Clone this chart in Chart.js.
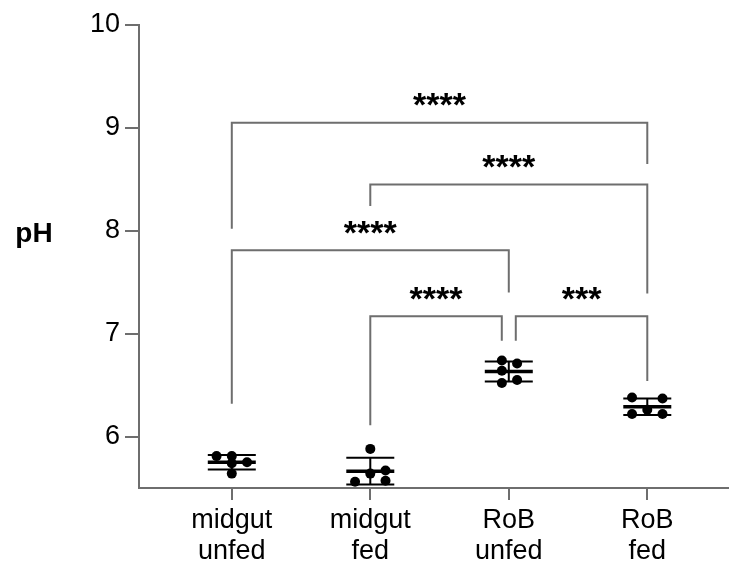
<!DOCTYPE html>
<html>
<head>
<meta charset="utf-8">
<script src="https://cdn.jsdelivr.net/npm/chart.js@4"></script>
<style>
html,body{margin:0;padding:0;background:#fff}
</style>
</head>
<body>
<canvas id="c" width="729" height="562"></canvas>
<script>
// groups on the x axis
const groups = [["midgut", "unfed"], ["midgut", "fed"], ["RoB", "unfed"], ["RoB", "fed"]];
// pH of each sample
const midgutUnfed = [5.81, 5.81, 5.75, 5.74, 5.64];
const midgutFed = [5.88, 5.56, 5.64, 5.67, 5.57];
const robUnfed = [6.74, 6.71, 6.64, 6.52, 6.55];
const robFed = [6.38, 6.37, 6.26, 6.22, 6.22];
const yTicks = [6, 7, 8, 9, 10];

// significance brackets (group numbers 1..4, heights in pH)
const cmpFrom = [1, 2, 1, 2, 3];
const cmpTo = [4, 4, 3, 3, 4];
const cmpTop = [9.05, 8.45, 7.81, 7.17, 7.17];
const cmpLegFrom = [8.02, 8.24, 6.32, 6.11, 6.93];
const cmpLegTo = [8.65, 7.39, 7.40, 6.93, 6.54];
const cmpStars = ["****", "****", "****", "****", "***"];

const allGroups = [midgutUnfed, midgutFed, robUnfed, robFed];

// horizontal spread of the dots (in group units), and bracket end nudges (px)
const JITTER = [
    [-0.11, 0, 0.11, 0, 0],
    [0, -0.11, 0, 0.11, 0.11],
    [-0.05, 0.06, -0.05, -0.05, 0.06],
    [-0.11, 0.11, 0, -0.11, 0.11]
];
const NUDGE_FROM = [0, 0, 0, 0, 7];
const NUDGE_TO = [0, 0, 0, -7, 0];

const AXIS = "#6e6e6e";
const FONT = "'Liberation Sans', Arial, sans-serif";

function mean(a){ return a.reduce((s, v) => s + v, 0) / a.length; }
function sd(a){
    const m = mean(a);
    return Math.sqrt(a.reduce((s, v) => s + (v - m) * (v - m), 0) / (a.length - 1));
}

let points = [];
allGroups.forEach((vals, g) => {
    vals.forEach((v, i) => points.push({x: g + 1 + JITTER[g][i], y: v}));
});

const extras = {
    id: "extras",
    afterDatasetsDraw(chart){
        const ctx = chart.ctx;
        const xs = chart.scales.x, ys = chart.scales.y;
        ctx.save();
        // mean and SD
        ctx.strokeStyle = "#000";
        allGroups.forEach((vals, g) => {
            const m = mean(vals), s = sd(vals);
            const cx = xs.getPixelForValue(g + 1);
            const half = 24;
            ctx.lineWidth = 3.5;
            ctx.beginPath();
            ctx.moveTo(cx - half, ys.getPixelForValue(m));
            ctx.lineTo(cx + half, ys.getPixelForValue(m));
            ctx.stroke();
            ctx.lineWidth = 2;
            ctx.beginPath();
            ctx.moveTo(cx - half, ys.getPixelForValue(m + s));
            ctx.lineTo(cx + half, ys.getPixelForValue(m + s));
            ctx.moveTo(cx - half, ys.getPixelForValue(m - s));
            ctx.lineTo(cx + half, ys.getPixelForValue(m - s));
            ctx.moveTo(cx, ys.getPixelForValue(m + s));
            ctx.lineTo(cx, ys.getPixelForValue(m - s));
            ctx.stroke();
        });
        // brackets
        ctx.lineWidth = 2;
        ctx.strokeStyle = AXIS;
        ctx.fillStyle = "#000";
        ctx.font = "bold 34px " + FONT;
        ctx.textAlign = "center";
        ctx.textBaseline = "middle";
        cmpFrom.forEach((f, i) => {
            const x1 = xs.getPixelForValue(f) + NUDGE_FROM[i];
            const x2 = xs.getPixelForValue(cmpTo[i]) + NUDGE_TO[i];
            const yt = ys.getPixelForValue(cmpTop[i]);
            ctx.beginPath();
            ctx.moveTo(x1, ys.getPixelForValue(cmpLegFrom[i]));
            ctx.lineTo(x1, yt);
            ctx.lineTo(x2, yt);
            ctx.lineTo(x2, ys.getPixelForValue(cmpLegTo[i]));
            ctx.stroke();
            ctx.fillText(cmpStars[i], (x1 + x2) / 2, yt - 16);
        });
        // y title, horizontal
        ctx.font = "bold 28px " + FONT;
        ctx.fillText("pH", 34, ys.getPixelForValue(7.97));
        ctx.restore();
    }
};

new Chart(document.getElementById("c"), {
    type: "scatter",
    data: {
        datasets: [{
            data: points,
            pointRadius: 5,
            pointHoverRadius: 5,
            backgroundColor: "#000",
            borderWidth: 0,
            clip: false
        }]
    },
    options: {
        responsive: false,
        animation: false,
        events: [],
        layout: {autoPadding: false, padding: {top: 25, right: 0, left: 0, bottom: 0}},
        plugins: {legend: {display: false}, tooltip: {enabled: false}},
        scales: {
            x: {
                type: "linear",
                min: 0.33,
                max: 4.59,
                afterBuildTicks: s => { s.ticks = groups.map((g, i) => ({value: i + 1})); },
                afterFit: s => { s.height = 74; },
                grid: {drawOnChartArea: false, drawTicks: true, tickLength: 12, color: AXIS, lineWidth: 2},
                border: {display: true, color: AXIS, width: 2},
                ticks: {
                    callback: v => groups[Math.round(v) - 1],
                    font: {family: FONT, size: 27, lineHeight: 1.15},
                    color: "#000",
                    padding: 5,
                    maxRotation: 0,
                    autoSkip: false
                }
            },
            y: {
                min: 5.5,
                max: 10,
                afterBuildTicks: s => { s.ticks = yTicks.map(v => ({value: v})); },
                afterFit: s => { s.width = 139; },
                grid: {drawOnChartArea: false, drawTicks: true, tickLength: 14, color: AXIS, lineWidth: 2},
                border: {display: true, color: AXIS, width: 2},
                ticks: {
                    font: {family: FONT, size: 27},
                    color: "#000",
                    padding: 5
                }
            }
        }
    },
    plugins: [extras]
});
</script>
</body>
</html>
